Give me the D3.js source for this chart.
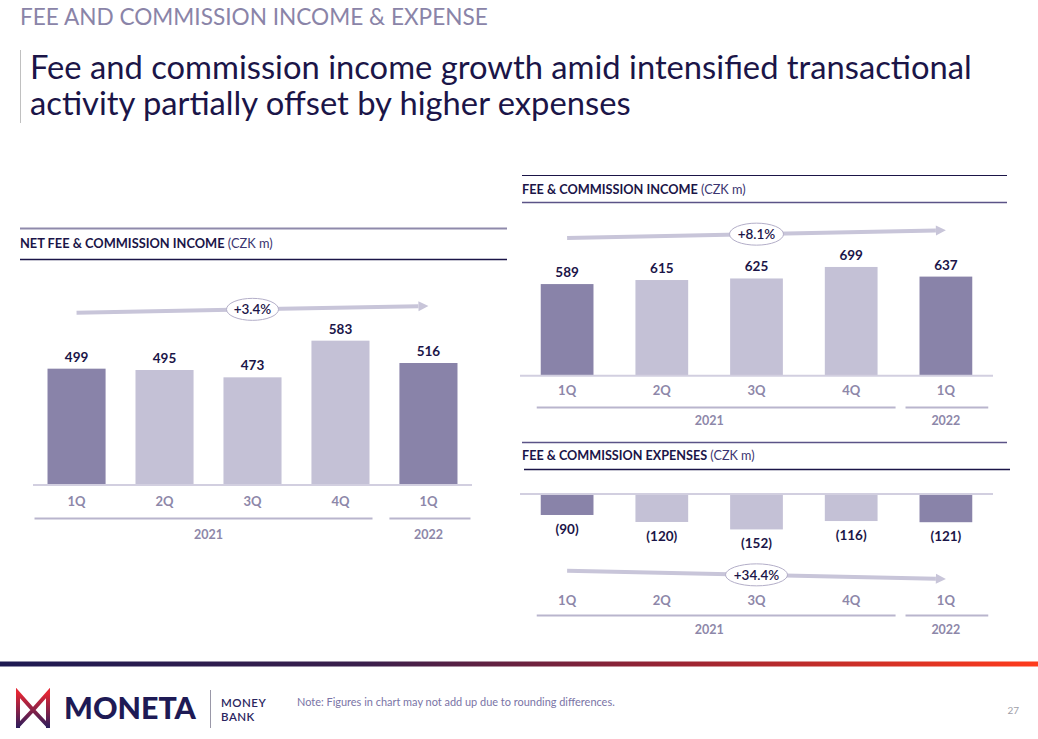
<!DOCTYPE html>
<html>
<head>
<meta charset="utf-8">
<script src="https://cdn.jsdelivr.net/npm/d3@7"></script>
<style>
  html, body { margin: 0; padding: 0; background: #fff; }
  svg { display: block; font-family: Lato, "Open Sans", sans-serif; }
</style>
</head>
<body>
<svg id="chart" width="1038" height="739"></svg>
<script>
// ---------- DATA ----------
const quarters = ["1Q", "2Q", "3Q", "4Q", "1Q"];
const years = ["2021", "2021", "2021", "2021", "2022"];
const netFeeIncome = [499, 495, 473, 583, 516];
const feeIncome = [589, 615, 625, 699, 637];
const feeExpenses = [-90, -120, -152, -116, -121];
const growthLabels = ["+3.4%", "+8.1%", "+34.4%"];
const expenseLabels = feeExpenses.map(v => "(" + Math.abs(v) + ")");

// ---------- STYLE ----------
const NAVY = "#1b1548";
const DARK_BAR = "#8983a9";
const LIGHT_BAR = "#c4c1d6";
const CAT = "#8d87a9";
const BASE = "#d2cfe0";
const YEARLINE = "#b9b5cd";
const ARROW = "#c8c5d9";

const svg = d3.select("#chart");
const idx = d3.range(quarters.length);

function fit(sel, w) {
  const n = sel.node();
  const fs = parseFloat(sel.attr("font-size"));
  const len = n.getComputedTextLength();
  if (len > 0) sel.attr("font-size", fs * w / len);
  return sel;
}

// ---------- PAGE HEADER ----------
fit(svg.append("text").attr("x", 20).attr("y", 25).attr("font-size", 21)
  .attr("fill", "#8a84a8").text("FEE AND COMMISSION INCOME & EXPENSE"), 468);

svg.append("line").attr("x1", 20.5).attr("x2", 20.5).attr("y1", 50).attr("y2", 123)
  .attr("stroke", "#c0c0c0").attr("stroke-width", 1);
const t1 = svg.append("text").attr("x", 30).attr("y", 79).attr("font-size", 30)
  .attr("fill", NAVY).text("Fee and commission income growth amid intensified transactional");
fit(t1, 942);
svg.append("text").attr("x", 30).attr("y", 115).attr("font-size", t1.attr("font-size"))
  .attr("fill", NAVY).text("activity partially offset by higher expenses");

// ---------- PANEL HEADERS ----------
function panelHeader(o) {
  svg.append("line").attr("x1", o.x0).attr("x2", o.x1).attr("y1", o.top).attr("y2", o.top)
    .attr("stroke", o.topColor).attr("stroke-width", o.topW);
  svg.append("line").attr("x1", o.x0b || o.x0).attr("x2", o.x1b || o.x1).attr("y1", o.bottom).attr("y2", o.bottom)
    .attr("stroke", o.bottomColor).attr("stroke-width", o.bottomW);
  const t = svg.append("text").attr("x", o.x0).attr("y", o.textY).attr("font-size", 11).attr("fill", NAVY);
  t.append("tspan").attr("font-weight", "bold").text(o.bold);
  t.append("tspan").attr("font-weight", "normal").attr("fill", "#3b3570").text(" (CZK m)");
  fit(t, o.textW);
}
panelHeader({ x0: 20, x1: 507, top: 228.5, bottom: 259.5, topColor: "#8f8aab", topW: 2,
  bottomColor: NAVY, bottomW: 1.3, textY: 248, bold: "NET FEE & COMMISSION INCOME", textW: 253 });
panelHeader({ x0: 522, x1: 1007, top: 175.5, bottom: 202.5, topColor: NAVY, topW: 1.2,
  bottomColor: "#5b5387", bottomW: 1.5, textY: 194, bold: "FEE & COMMISSION INCOME", textW: 224 });
panelHeader({ x0: 522, x1: 1007, x0b: 524, x1b: 1010, top: 442.5, bottom: 469.5, topColor: "#5b5387", topW: 1.3,
  bottomColor: NAVY, bottomW: 1.3, textY: 459.5, bold: "FEE & COMMISSION EXPENSES", textW: 233 });

// ---------- CHART PANELS ----------
function drawPanel(o) {
  const g = svg.append("g");
  const x = d3.scaleBand().domain(idx).range([o.x0, o.x1])
    .paddingInner(o.padIn).paddingOuter(o.padOut);
  const y = d3.scaleLinear().domain(o.yDomain).range(o.yRange);
  const bw = x.bandwidth();
  const baseY = y(o.baseValue);

  // bars
  g.selectAll("rect.bar").data(idx).join("rect").attr("class", "bar")
    .attr("x", i => x(i)).attr("width", bw)
    .attr("y", i => Math.min(y(o.values[i]), baseY))
    .attr("height", i => Math.abs(y(o.values[i]) - baseY))
    .attr("fill", i => quarters[i] === "1Q" ? DARK_BAR : LIGHT_BAR);

  // baseline
  g.append("line").attr("x1", o.x0).attr("x2", o.x1).attr("y1", baseY).attr("y2", baseY)
    .attr("stroke", BASE).attr("stroke-width", 2);

  // value labels
  g.selectAll("text.val").data(idx).join("text").attr("class", "val")
    .attr("x", i => x(i) + bw / 2)
    .attr("y", i => o.values[i] >= 0 ? y(o.values[i]) - 7 : y(o.values[i]) + 19)
    .attr("text-anchor", "middle").attr("font-size", 13.5).attr("font-weight", "bold")
    .attr("fill", NAVY).text(i => o.labels[i]);

  // category axis
  const axis = d3.axisBottom(x).tickSize(0).tickFormat(i => quarters[i]);
  const ax = g.append("g").attr("transform", `translate(0,${o.catY})`).call(axis);
  ax.select(".domain").remove();
  ax.selectAll("text").attr("font-size", 13).attr("font-weight", "bold").attr("fill", CAT)
    .attr("font-family", "Lato, sans-serif").attr("dy", "0.35em").attr("y", 0);

  // year groups
  const groups = d3.groups(idx, i => years[i]);
  groups.forEach(([yr, is], gi) => {
    const a = x(is[0]) - o.yl[gi][0], b = x(is[is.length - 1]) + bw + o.yl[gi][1];
    g.append("line").attr("x1", a).attr("x2", b).attr("y1", o.yearLineY).attr("y2", o.yearLineY)
      .attr("stroke", YEARLINE).attr("stroke-width", 2);
    g.append("text").attr("x", (x(is[0]) + x(is[is.length - 1]) + bw) / 2).attr("y", o.yearY)
      .attr("dy", "0.35em").attr("text-anchor", "middle").attr("font-size", 12.5)
      .attr("font-weight", "bold").attr("fill", CAT).text(yr);
  });

  // trend arrow
  const ax0 = x(0) + bw / 2, ax1 = x(idx.length - 1) + bw / 2;
  const [ya, yb] = o.arrowY;
  const ang = Math.atan2(yb - ya, ax1 - ax0);
  const hl = 10, hw = 5;
  const bx = ax1 - hl * Math.cos(ang), by = yb - hl * Math.sin(ang);
  g.append("line").attr("x1", ax0).attr("y1", ya).attr("x2", bx).attr("y2", by)
    .attr("stroke", ARROW).attr("stroke-width", 4);
  g.append("path").attr("fill", ARROW).attr("d",
    `M${ax1},${yb} L${bx + hw * Math.sin(ang)},${by - hw * Math.cos(ang)} L${bx - hw * Math.sin(ang)},${by + hw * Math.cos(ang)} Z`);
  const cx = (ax0 + ax1) / 2, cy = (ya + yb) / 2;
  g.append("ellipse").attr("cx", cx).attr("cy", cy).attr("rx", o.rx).attr("ry", 11)
    .attr("fill", "#fff").attr("stroke", "#b3aec8").attr("stroke-width", 1);
  g.append("text").attr("x", cx).attr("y", cy).attr("dy", "0.36em").attr("text-anchor", "middle")
    .attr("font-size", 13.5).attr("font-weight", 600).attr("fill", NAVY).text(o.growth);
}

drawPanel({
  values: netFeeIncome, labels: netFeeIncome.map(String),
  x0: 33, x1: 472, padIn: 0.34, padOut: 0.165,
  yDomain: [150, 600], yRange: [485, 335], baseValue: 150,
  catY: 501, yearLineY: 518.5, yearY: 534.5, yl: [[13, 3], [10, 13]],
  arrowY: [312.7, 306], rx: 26, growth: growthLabels[0]
});
drawPanel({
  values: feeIncome, labels: feeIncome.map(String),
  x0: 520, x1: 993, padIn: 0.443, padOut: 0.219,
  yDomain: [0, 700], yRange: [375.7, 266.8], baseValue: 0,
  catY: 390, yearLineY: 407.5, yearY: 421, yl: [[4, 18], [14, 16]],
  arrowY: [238, 230.3], rx: 27, growth: growthLabels[1]
});
drawPanel({
  values: feeExpenses, labels: expenseLabels,
  x0: 520, x1: 993, padIn: 0.443, padOut: 0.219,
  yDomain: [-160, 0], yRange: [531.3, 494], baseValue: 0,
  catY: 600, yearLineY: 615.5, yearY: 630, yl: [[4, 18], [14, 16]],
  arrowY: [570.7, 579], rx: 31, growth: growthLabels[2]
});

// ---------- FOOTER ----------
const defs = svg.append("defs");
const grad = defs.append("linearGradient").attr("id", "foot").attr("x1", "0").attr("x2", "1");
grad.append("stop").attr("offset", "0").attr("stop-color", "#1e1a52");
grad.append("stop").attr("offset", "0.35").attr("stop-color", "#3a1f4c");
grad.append("stop").attr("offset", "0.65").attr("stop-color", "#9a2433");
grad.append("stop").attr("offset", "1").attr("stop-color", "#ff3b1c");
svg.append("rect").attr("x", 0).attr("y", 661.5).attr("width", 1038).attr("height", 5).attr("fill", "url(#foot)");

const lg = defs.append("linearGradient").attr("id", "logo").attr("x1", "0").attr("y1", "0").attr("x2", "0").attr("y2", "1");
lg.append("stop").attr("offset", "0").attr("stop-color", "#e32634");
lg.append("stop").attr("offset", "1").attr("stop-color", "#2a1d5c");
svg.append("path").attr("fill", "none").attr("stroke", "url(#logo)").attr("stroke-width", 4)
  .attr("stroke-linejoin", "miter")
  .attr("d", "M18,728 L18,693 L33,710 L18,726 M48,728 L48,693 L33,710 L48,726");
fit(svg.append("text").attr("x", 64).attr("y", 719).attr("font-size", 26).attr("font-weight", 900)
  .attr("fill", "#1e1a55").text("MONETA"), 132);
svg.append("line").attr("x1", 210.5).attr("x2", 210.5).attr("y1", 690).attr("y2", 728)
  .attr("stroke", "#9a98a8").attr("stroke-width", 1);
svg.append("text").attr("x", 221).attr("y", 707).attr("font-size", 11.5).attr("font-weight", 600)
  .attr("letter-spacing", 0.5).attr("fill", "#2a2560").text("MONEY");
svg.append("text").attr("x", 221).attr("y", 721).attr("font-size", 11.5).attr("font-weight", 600)
  .attr("letter-spacing", 0.5).attr("fill", "#2a2560").text("BANK");
fit(svg.append("text").attr("x", 297).attr("y", 706).attr("font-size", 10).attr("fill", "#7a74a6")
  .text("Note: Figures in chart may not add up due to rounding differences."), 318);
svg.append("text").attr("x", 1019).attr("y", 714).attr("text-anchor", "end").attr("font-size", 10)
  .attr("fill", "#a0a0a8").text("27");
</script>
</body>
</html>
